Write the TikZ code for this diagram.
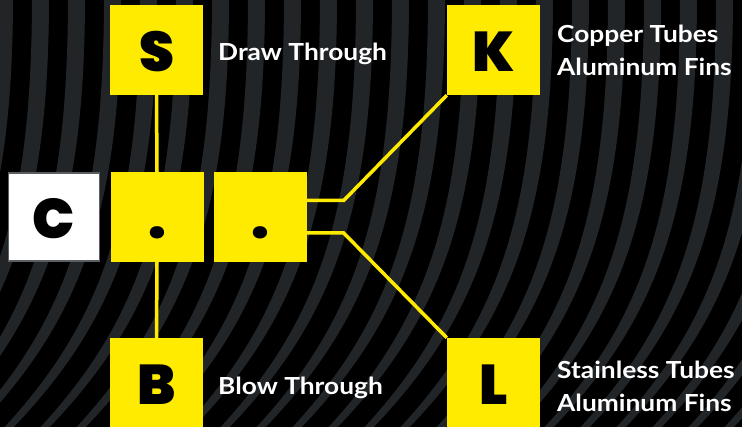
\documentclass[tikz,border=0pt]{standalone}
\usepackage{fontspec}
\newfontfamily\labelfont{Lato}[FakeStretch=1.12]
\IfFontExistsTF{Poppins Black}
  {\newfontfamily\boxfont{Poppins Black}\newcommand\boxface{\boxfont}}
  {\newfontfamily\boxfont{Poppins}\newcommand\boxface{\boxfont\bfseries}}
\definecolor{signyellow}{HTML}{FFEB00}
\definecolor{stripegray}{HTML}{222528}
\definecolor{framegray}{HTML}{5A5F64}

\begin{document}
\begin{tikzpicture}[x=1pt, y=-1pt,
    letterbox/.style={fill=signyellow, minimum width=93pt, minimum height=90pt,
      inner sep=0pt, text height=44pt, text depth=0pt,
      font=\boxface\fontsize{56}{56}\selectfont},
    textlabel/.style={text=white, inner sep=0pt, align=left,
      font=\labelfont\bfseries\fontsize{23.5}{33}\selectfont},
    link/.style={signyellow, line width=3.5pt}]
    \useasboundingbox (0,0) rectangle (742,427);
    % background with curved stripes
    \fill[black] (0,0) rectangle (742,427);
    \begin{scope}
        \clip (0,0) rectangle (742,427);
        \foreach \x in {-40,-4,...,1000} {
            \fill[stripegray] (\x,-5) .. controls (\x,210) and (\x-35,320) .. (\x-140,432)
                -- (\x-131,432) .. controls (\x-22,320) and (\x+17,210) .. (\x+17,-5) -- cycle;
        }
    \end{scope}
    % boxes
    \node[letterbox] (S) at (156.5,50) {S};
    \node[letterbox, fill=white, draw=framegray, line width=1.5pt,
          minimum width=91pt, minimum height=88pt] (C) at (54,217) {C};
    \node[letterbox] (dotA) at (157,217) {.};
    \node[letterbox] (dotB) at (260,217) {.};
    \node[letterbox] (B) at (156.5,383) {B};
    \node[letterbox] (K) at (493.5,50) {K};
    \node[letterbox] (L) at (493.5,383) {L};
    % connectors
    \draw[link] (S.south) -- (dotA.north);
    \draw[link] (dotA.south) -- (B.north);
    \draw[link] ([yshift=16.5pt]dotB.east) -- ++(37,0) -- (K.south west);
    \draw[link] ([yshift=-16pt]dotB.east) -- ++(37,0) -- (L.north west);
    % labels
    \node[textlabel, anchor=base west] (drawlbl) at (218,61) {Draw Through};
    \node[textlabel, anchor=base west] (blowlbl) at (218,395) {Blow Through};
    \node[textlabel, anchor=base west] (copperlbl) at (557,76) {Copper Tubes\\Aluminum Fins};
    \node[textlabel, anchor=base west] (steellbl) at (557,412) {Stainless Tubes\\Aluminum Fins};
\end{tikzpicture}
\end{document}
